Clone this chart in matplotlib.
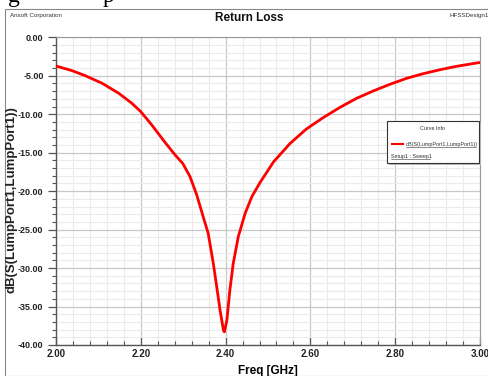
import matplotlib
matplotlib.use("Agg")
import matplotlib.pyplot as plt
from matplotlib.patches import Rectangle
from matplotlib.lines import Line2D
from matplotlib.ticker import MultipleLocator, FormatStrFormatter

# ---- data ----
freq_ghz = [2.000, 2.038, 2.069, 2.109, 2.148, 2.179, 2.200, 2.226, 2.257, 2.281,
            2.299, 2.316, 2.332, 2.347, 2.359, 2.371, 2.379, 2.387, 2.395, 2.397,
            2.403, 2.410, 2.418, 2.430, 2.446, 2.462, 2.481, 2.513, 2.552, 2.591,
            2.630, 2.670, 2.709, 2.748, 2.788, 2.827, 2.866, 2.906, 2.945, 2.992,
            3.000]
s11_db = [-3.73, -4.34, -4.99, -5.98, -7.28, -8.58, -9.67, -11.4, -13.65, -15.3,
          -16.4, -18.1, -20.5, -23.3, -25.5, -29.4, -32.4, -35.5, -38.1, -38.3,
          -36.8, -32.9, -29.4, -25.9, -22.9, -20.7, -18.9, -16.2, -13.8, -11.9,
          -10.45, -9.1, -7.93, -6.98, -6.1, -5.33, -4.73, -4.21, -3.77, -3.34,
          -3.28]

title = "Return Loss"
xlabel = "Freq [GHz]"
ylabel = "dB(S(LumpPort1,LumpPort1))"
legend_title = "Curve Info"
legend_label = "dB(S(LumpPort1,LumpPort1))"
setup_label = "Setup1 : Sweep1"

W, H = 488, 376
fig = plt.figure(figsize=(W / 100, H / 100), dpi=100)
fam = ['Liberation Sans', 'DejaVu Sans']

def fx(px):
    return px / W

def fy(py):
    return 1 - py / H

ax = fig.add_axes([fx(56), fy(345), fx(480) - fx(56), fy(37.3) - fy(345)])
ax.plot(freq_ghz, s11_db, color='#ff0000', lw=2.0, solid_joinstyle='round',
        solid_capstyle='round', zorder=3)
ax.set_xlim(2.0, 3.0)
ax.set_ylim(-40, 0)

ax.xaxis.set_major_locator(MultipleLocator(0.2))
ax.xaxis.set_minor_locator(MultipleLocator(0.04))
ax.yaxis.set_major_locator(MultipleLocator(5))
ax.yaxis.set_minor_locator(MultipleLocator(1))
ax.xaxis.set_major_formatter(FormatStrFormatter('%.2f'))
ax.yaxis.set_major_formatter(FormatStrFormatter('%.2f'))

ax.grid(which='major', color='#c8c8c8', lw=0.9, zorder=0)
ax.grid(which='minor', color='#ebebeb', lw=0.8, zorder=0)
ax.set_axisbelow(True)

for s in ['left', 'bottom']:
    ax.spines[s].set_color('#555555')
    ax.spines[s].set_linewidth(1.0)
for s in ['top', 'right']:
    ax.spines[s].set_color('#999999')
    ax.spines[s].set_linewidth(0.8)

ax.tick_params(axis='y', which='major', direction='out', length=6, width=0.9,
               color='#555555', labelsize=6.5, pad=3)
ax.tick_params(axis='y', which='minor', direction='out', length=3, width=0.8,
               color='#555555')
ax.tick_params(axis='x', which='major', direction='in', length=6, width=0.9,
               color='#555555', labelsize=7, pad=3)
ax.tick_params(axis='x', which='minor', direction='in', length=3, width=0.8,
               color='#555555')
for lab in ax.get_xticklabels() + ax.get_yticklabels():
    lab.set_family(fam)
    lab.set_fontweight('bold')
    lab.set_color('#222222')

ax.set_xlabel(xlabel, family=fam, fontweight='bold', fontsize=8.5)
ax.xaxis.set_label_coords((268 - 56) / (480 - 56), -(371 - 345) / (345 - 37.3))
ax.xaxis.label.set_va('center')

fig.text(fx(12), fy(200), ylabel, family=fam, fontweight='bold', fontsize=9.5,
         rotation=90, ha='center', va='center', color='#222222')

# header texts
fig.text(fx(249), fy(18), title, family=fam, fontweight='bold', fontsize=8.5,
         ha='center', va='center', color='#111111')
fig.text(fx(10), fy(15), "Ansoft Corporation", family=fam, fontsize=4.5,
         ha='left', va='center', color='#333333')
fig.text(fx(450), fy(15), "HFSSDesign1", family=fam, fontsize=4.5,
         ha='left', va='center', color='#333333')

# outer frame of the report
fig.patches.append(Rectangle((fx(5), fy(376)), fx(490) - fx(5), fy(9) - fy(376),
                             transform=fig.transFigure, fill=False,
                             edgecolor='#888888', lw=0.8))

# clipped remnants of the document text above
fig.text(fx(8), fy(2), "g", family=['Liberation Serif'], fontsize=17,
         ha='left', va='baseline', color='black')
fig.text(fx(103), fy(2), "p", family=['Liberation Serif'], fontsize=17,
         ha='left', va='baseline', color='black')

# legend box (Curve Info)
bx0, by0, bx1, by1 = 386.7, 120.7, 479, 163.3
fig.patches.append(Rectangle((fx(bx0 + 2), fy(by1 + 2)), fx(bx1) - fx(bx0), fy(by0) - fy(by1),
                             transform=fig.transFigure, facecolor='#bbbbbb',
                             edgecolor='none', zorder=5))
fig.patches.append(Rectangle((fx(bx0), fy(by1)), fx(bx1) - fx(bx0), fy(by0) - fy(by1),
                             transform=fig.transFigure, facecolor='white',
                             edgecolor='#333333', lw=0.8, zorder=6))
fig.text(fx(433), fy(129), legend_title, family=fam, fontsize=3.9,
         ha='center', va='center', color='#333333', zorder=7)
fig.lines.append(Line2D([fx(392), fx(403)], [fy(144.3), fy(144.3)],
                        transform=fig.transFigure, color='#ff0000', lw=1.5, zorder=7))
fig.text(fx(406), fy(144.3), legend_label, family=fam, fontsize=3.9,
         ha='left', va='center', color='#333333', zorder=7)
fig.lines.append(Line2D([fx(406), fx(476)], [fy(147.0), fy(147.0)],
                        transform=fig.transFigure, color='#333333', lw=0.4, zorder=7))
fig.text(fx(391), fy(156.5), setup_label, family=fam, fontsize=3.9,
         ha='left', va='center', color='#333333', zorder=7)
fig.lines.append(Line2D([fx(391), fx(430)], [fy(159.2), fy(159.2)],
                        transform=fig.transFigure, color='#333333', lw=0.4, zorder=7))

fig.savefig("out.png", dpi=100, facecolor='white')
